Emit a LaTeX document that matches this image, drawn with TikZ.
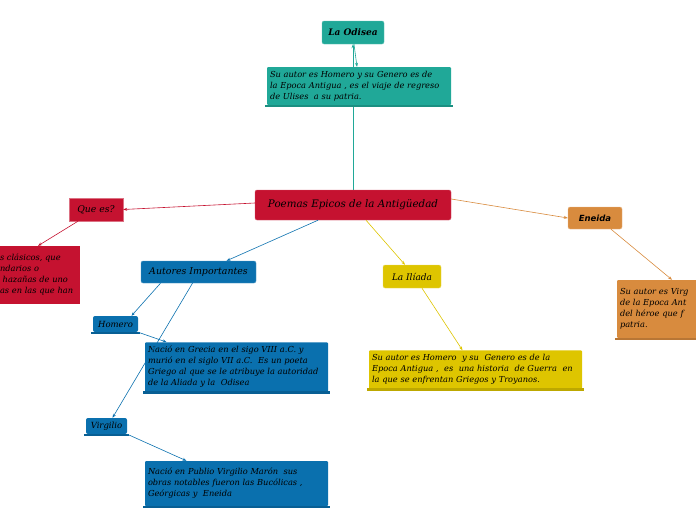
\documentclass[tikz,border=0pt]{standalone}
\usepackage{fontspec}
\setmainfont{DejaVu Serif}
\newfontfamily\eneidafont{DejaVu Sans}
\usepackage{xcolor}
\usetikzlibrary{arrows.meta,positioning,calc,backgrounds}
\definecolor{pteal}{HTML}{20A898}
\definecolor{pcrim}{HTML}{C51230}
\definecolor{pblue}{HTML}{0A70AE}
\definecolor{pyell}{HTML}{DEC500}
\definecolor{porange}{HTML}{D88B3E}
\newcommand{\shelf}[2]{%
  \fill[#2!85!black] ([xshift=-1.5pt,yshift=0.5pt]#1.south west) rectangle ([xshift=1.5pt,yshift=-2pt]#1.south east);}
\tikzset{
  topic/.style={rounded corners=2pt,inner sep=3pt,align=center,
                font=\fontsize{9}{11}\selectfont\itshape},
  note/.style={rounded corners=1pt,inner xsep=3pt,inner ysep=4pt,align=left,
               font=\fontsize{8.25}{11}\selectfont\itshape},
  link/.style={line width=0.6pt,-{Stealth[length=4pt,width=3pt]}}
}
\begin{document}
\begin{tikzpicture}[x=1pt,y=-1pt]
  \useasboundingbox (0,0) rectangle (696,520);
  \clip (0,0) rectangle (696,520);

  % centro
  \node[topic,fill=pcrim,draw=pcrim!70!white,minimum width=196pt,minimum height=30pt,
        font=\fontsize{10.3}{12}\selectfont\itshape] (main) at (353,205)
        {Poemas Epicos de la Antigüedad};

  % La Odisea
  \node[topic,fill=pteal,draw=pteal!70!white,minimum width=62pt,minimum height=23pt,
        font=\fontsize{9}{11}\selectfont\bfseries\itshape] (odisea) at (353,32.5) {La Odisea};
  \node[note,fill=pteal,text width=178pt,minimum height=36pt] (odiseatxt) at (359,86)
        {Su autor es Homero y su Genero es de\\
         la Epoca Antigua , es el viaje de regreso\\
         de Ulises \ a su patria.};
  \shelf{odiseatxt}{pteal}

  % Que es?
  \node[topic,rounded corners=0pt,fill=pcrim,draw=pcrim!60!white,minimum width=54pt,
        minimum height=23pt,font=\fontsize{9.3}{11}\selectfont\itshape] (quees) at (96,209.5) {Que es?};
  \node[note,rounded corners=0pt,fill=pcrim,text width=78pt,minimum height=58pt,
        inner sep=2pt] (queestxt) at (39,275)
        {s clásicos, que\\
         ndarios o\\
         \ hazañas de uno\\
         as en las que han\\[2pt]};

  % Autores
  \node[topic,fill=pblue,draw=pblue!70!white,minimum width=115pt,minimum height=22pt,
        font=\fontsize{9.4}{11}\selectfont\itshape] (autores) at (198.5,272) {Autores Importantes};
  \node[topic,fill=pblue,minimum width=45pt,minimum height=16pt,inner sep=1pt,
        font=\fontsize{8.5}{9}\selectfont\itshape] (homero) at (115.5,324) {Homero};
  \shelf{homero}{pblue}
  \node[note,fill=pblue,text width=177pt,minimum height=48pt] (homerotxt) at (236.5,367)
        {Nació en Grecia en el sigo VIII a.C. y\\
         murió en el siglo VII a.C. \ Es un poeta\\
         Griego al que se le atribuye la autoridad\\
         de la Aliada y la \ Odisea};
  \shelf{homerotxt}{pblue}
  \node[topic,fill=pblue,minimum width=41pt,minimum height=16pt,inner sep=1pt,
        font=\fontsize{8.5}{9}\selectfont\itshape] (virgilio) at (106.5,426) {Virgilio};
  \shelf{virgilio}{pblue}
  \node[note,fill=pblue,text width=177pt,minimum height=45pt] (virgiliotxt) at (236.5,483.5)
        {Nació en Publio Virgilio Marón \ sus\\
         obras notables fueron las Bucólicas ,\\
         Geórgicas y \ Eneida};
  \shelf{virgiliotxt}{pblue}

  % La Iliada
  \node[topic,fill=pyell,draw=pyell!60!white,minimum width=58pt,minimum height=23pt,
        font=\fontsize{9}{10}\selectfont\itshape] (iliada) at (412,276.5) {La Ilíada};
  \node[note,fill=pyell,text width=207pt,minimum height=37pt] (iliadatxt) at (475.5,369.5)
        {Su autor es Homero \ y su \ Genero es de la\\
         Epoca Antigua , \ es \ una historia \ de Guerra \ en\\
         la que se enfrentan Griegos y Troyanos.};
  \shelf{iliadatxt}{pyell}

  % Eneida
  \node[topic,fill=porange,draw=porange!60!white,minimum width=54pt,minimum height=22pt,
        font=\eneidafont\fontsize{8.5}{10}\selectfont\bfseries\itshape] (eneida) at (595,218) {Eneida};
  \node[note,fill=porange,text width=94pt,minimum height=58pt] (eneidatxt) at (667,309)
        {Su autor es Virg\\
         de la Epoca Ant\\
         del héroe que f\\
         patria.};
  \shelf{eneidatxt}{porange}

  % conectores
  \begin{scope}[on background layer]
    \draw[link,pteal] (main.north) -- (odisea.south);
  \end{scope}
  \draw[link,pteal] ([xshift=1pt]odisea.south) -- ([xshift=-2pt]odiseatxt.north);
  \draw[link,pcrim] ([yshift=2pt]main.west) -- (quees.east);
  \draw[link,pcrim] ([xshift=-18pt]quees.south) -- ([xshift=-1pt]queestxt.north);
  \draw[link,pblue] ([xshift=-35pt]main.south) -- ([xshift=28pt]autores.north);
  \draw[link,pblue] ([xshift=-38pt]autores.south) -- ([xshift=16pt]homero.north);
  \draw[link,pblue] (homero.south east) -- ([xshift=-70pt]homerotxt.north);
  \draw[link,pblue] ([xshift=-6pt]autores.south) -- ([xshift=6pt]virgilio.north);
  \draw[link,pblue] (virgilio.south east) -- ([xshift=-50pt]virgiliotxt.north);
  \draw[link,pyell] ([xshift=13pt]main.south) -- ([xshift=-7pt]iliada.north);
  \draw[link,pyell] ([xshift=10pt]iliada.south) -- ([xshift=-13pt]iliadatxt.north);
  \draw[link,porange] ([yshift=6pt]main.east) -- (eneida.west);
  \draw[link,porange] ([xshift=16pt]eneida.south) -- ([xshift=5pt]eneidatxt.north);
\end{tikzpicture}
\end{document}
